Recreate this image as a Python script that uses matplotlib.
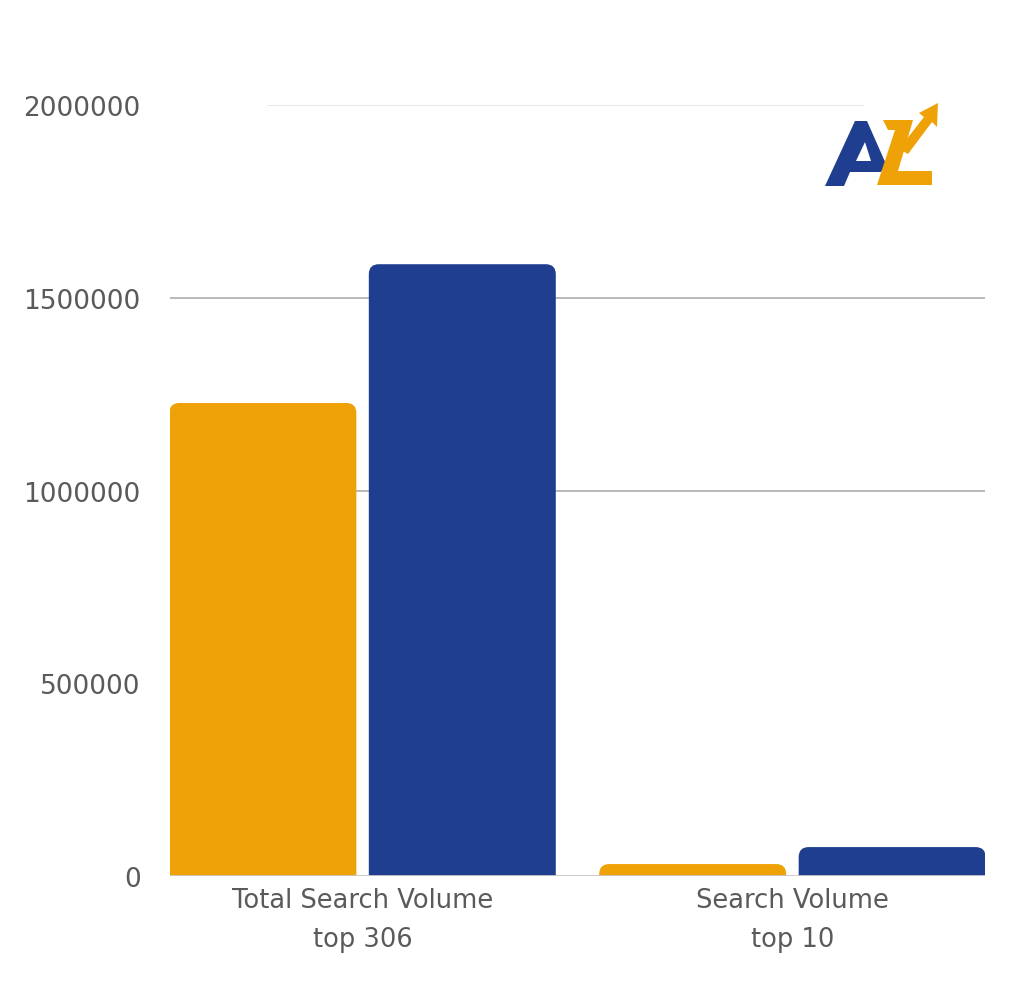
import matplotlib
matplotlib.use("Agg")
import matplotlib.pyplot as plt
from matplotlib.patches import FancyBboxPatch, Polygon
import numpy as np

categories = ["Total Search Volume\ntop 306", "Search Volume\ntop 10"]
series_a = [1227000, 31000]
series_b = [1587000, 75000]
colors = ["#EEA207", "#1F3E8F"]
yticks = [0, 500000, 1000000, 1500000, 2000000]
ytick_labels = ["0", "500000", "1000000", "1500000", "2000000"]

W, H = 1024, 1004
fig = plt.figure(figsize=(W / 100, H / 100), dpi=100)
fig.patch.set_facecolor("white")
ax = fig.add_axes([170 / W, 1 - 877 / H, 815 / W, 771 / H])

x = np.arange(len(categories))
bw = 0.435
off = 0.232
ax.set_xlim(-0.448, 1.448)
ax.set_ylim(0, 2000000)

# gridlines
ax.axhline(1500000, color="#b3b3b3", lw=1.3, zorder=1)
ax.axhline(1000000, color="#b3b3b3", lw=1.3, zorder=1)
ax.axhline(2000000, xmin=0.12, xmax=0.85, color="#e3e3e3", lw=1.2, zorder=1)
ax.axhline(0, color="#c8c8c8", lw=1.3, zorder=3)

# rounded bars
xpp = 1.896 / 815
ypp = 2000000 / 771
aspect = ypp / xpp
r = 10 * xpp
for vals, col, sgn in [(series_a, colors[0], -1), (series_b, colors[1], 1)]:
    bars = ax.bar(x + sgn * off, vals, bw, color=col, alpha=0)
    for b in bars:
        x0, w, h = b.get_x(), b.get_width(), b.get_height()
        p = FancyBboxPatch((x0, -200000), w, h + 200000,
                           boxstyle=f"round,pad=0,rounding_size={r}",
                           mutation_aspect=aspect, fc=col, ec="none", zorder=2)
        ax.add_patch(p)

for s in ax.spines.values():
    s.set_visible(False)
ax.set_yticks(yticks)
ax.set_yticklabels(ytick_labels)
ax.set_xticks(x)
ax.set_xticklabels(categories, linespacing=1.62)
ax.tick_params(axis="both", length=0, labelcolor="#5a5a5a")
ax.tick_params(axis="y", pad=21, labelsize=19)
ax.tick_params(axis="x", pad=8, labelsize=18.5)
for t in ax.get_yticklabels() + ax.get_xticklabels():
    t.set_fontfamily("DejaVu Sans")

# logo
def P(pts):
    return [(px / W, 1 - py / H) for px, py in pts]

def poly(pts, col):
    fig.patches.append(Polygon(P(pts), closed=True, fc=col, ec="none",
                               transform=fig.transFigure))

poly([(825, 187), (855, 122), (867, 122), (886, 165), (881, 173), (850, 173), (844, 187)], "#1F3E8F")
poly([(856, 162), (871, 162), (865, 143)], "white")
poly([(883, 121), (913, 121), (911, 128), (898, 172), (932, 172), (932, 186), (877, 186),
      (895, 131), (888, 131)], "#EEA207")
poly([(899, 150), (924, 118), (919, 114), (938, 104), (937, 128), (932, 123), (908, 155)], "#EEA207")

fig.savefig("out.png", dpi=100, facecolor="white")
